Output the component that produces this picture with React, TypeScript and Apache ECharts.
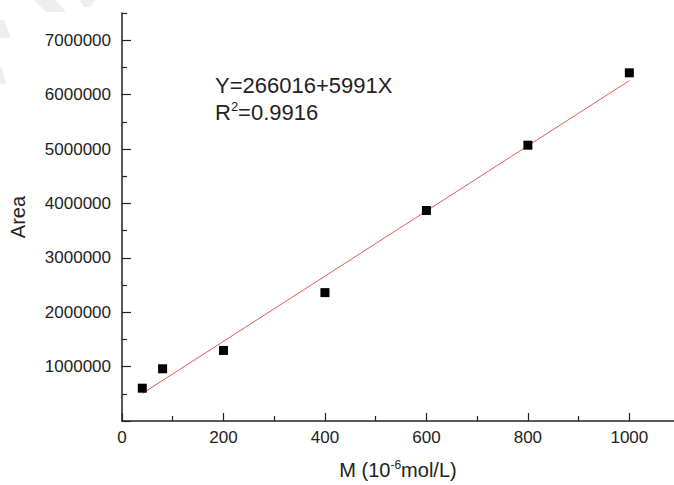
import React, { useEffect, useRef } from "react";
import * as echarts from "echarts";

// Data
const concentrations = [40, 80, 200, 400, 600, 800, 1000];
const areas = [603000, 960000, 1297000, 2360000, 3870000, 5070000, 6400000];
// Linear fit end points (Y = 266016 + 5991X)
const fitX = [40, 1000];
const fitY = [505656, 6257016];

const xMajorTicks = [0, 200, 400, 600, 800, 1000];
const xMinorTicks = [100, 300, 500, 700, 900];
const yMajorTicks = [0, 1000000, 2000000, 3000000, 4000000, 5000000, 6000000, 7000000];
const yMinorTicks = [500000, 1500000, 2500000, 3500000, 4500000, 5500000, 6500000, 7500000];

const equationText = "Y=266016+5991X";
const r2Label = "0.9916";

const FONT = "'Liberation Sans', Arial, sans-serif";
const AXIS_COLOR = "#222222";
const TEXT_COLOR = "#222222";

export default function App() {
  const ref = useRef<HTMLDivElement>(null);

  useEffect(() => {
    if (!ref.current) return;
    const chart = echarts.init(ref.current, undefined, { renderer: "svg" });

    const scatterData = concentrations.map((x, i) => [x, areas[i]]);
    const fitData = fitX.map((x, i) => [x, fitY[i]]);
    const plain = (v: number) => String(v);

    const option: any = {
      animation: false,
      backgroundColor: "#ffffff",
      textStyle: { fontFamily: FONT },
      grid: { left: 122, top: 13, bottom: 63, right: 0, containLabel: false },
      xAxis: [
        {
          type: "value",
          min: 0,
          max: 1088,
          name: "{n|M (10}{s|-6}{n|mol/L)}",
          nameLocation: "middle",
          nameGap: 38,
          nameTextStyle: {
            rich: {
              n: { fontSize: 20, fontFamily: FONT, color: TEXT_COLOR },
              s: { fontSize: 12, fontFamily: FONT, color: TEXT_COLOR, verticalAlign: "top", padding: [0, 0, 10, 0] },
            },
          },
          axisLine: { show: true, lineStyle: { color: AXIS_COLOR, width: 1.5 } },
          axisTick: { show: true, inside: true, length: 8, customValues: xMajorTicks, lineStyle: { color: AXIS_COLOR, width: 1.2 } },
          axisLabel: { show: true, customValues: xMajorTicks, formatter: plain, fontSize: 17, color: TEXT_COLOR, fontFamily: FONT, margin: 8 },
          splitLine: { show: false },
        },
        {
          type: "value",
          min: 0,
          max: 1088,
          position: "bottom",
          axisLine: { show: false },
          axisTick: { show: true, inside: true, length: 5, customValues: xMinorTicks, lineStyle: { color: AXIS_COLOR, width: 1.2 } },
          axisLabel: { show: false },
          splitLine: { show: false },
        },
      ],
      yAxis: [
        {
          type: "value",
          min: 0,
          max: 7500000,
          name: "Area",
          nameLocation: "middle",
          nameGap: 94,
          nameTextStyle: { fontSize: 20, color: TEXT_COLOR, fontFamily: FONT },
          axisLine: { show: true, lineStyle: { color: AXIS_COLOR, width: 1.5 } },
          axisTick: { show: true, inside: true, length: 9, customValues: yMajorTicks, lineStyle: { color: AXIS_COLOR, width: 1.2 } },
          axisLabel: { show: true, customValues: yMajorTicks.slice(1), formatter: plain, fontSize: 17, color: TEXT_COLOR, fontFamily: FONT, margin: 11 },
          splitLine: { show: false },
        },
        {
          type: "value",
          min: 0,
          max: 7500000,
          position: "left",
          axisLine: { show: false },
          axisTick: { show: true, inside: true, length: 5, customValues: yMinorTicks, lineStyle: { color: AXIS_COLOR, width: 1.2 } },
          axisLabel: { show: false },
          splitLine: { show: false },
        },
      ],
      graphic: [
        { type: "polygon", shape: { points: [[34, 0], [56, 0], [66, 12], [46, 12]] }, style: { fill: "#eeeeee" }, silent: true },
        { type: "polygon", shape: { points: [[80, 0], [95, 0], [90, 7], [84, 7]] }, style: { fill: "#eeeeee" }, silent: true },
        { type: "polygon", shape: { points: [[0, 20], [4, 20], [11, 38], [0, 38]] }, style: { fill: "#eeeeee" }, silent: true },
        { type: "polygon", shape: { points: [[0, 67], [2, 67], [6, 84], [0, 84]] }, style: { fill: "#eeeeee" }, silent: true },
        {
          type: "text",
          left: 215,
          top: 74,
          style: { text: equationText, fontSize: 22, fontFamily: FONT, fill: TEXT_COLOR },
        },
        {
          type: "text",
          left: 215,
          top: 100,
          style: {
            text: "{n|R}{s|2}{n|=" + r2Label + "}",
            fontFamily: FONT,
            fill: TEXT_COLOR,
            rich: {
              n: { fontSize: 22, fontFamily: FONT, fill: TEXT_COLOR },
              s: { fontSize: 13, fontFamily: FONT, fill: TEXT_COLOR, verticalAlign: "top", padding: [0, 0, 12, 0] },
            },
          },
        },
      ],
      series: [
        {
          type: "line",
          data: fitData,
          xAxisIndex: 0,
          yAxisIndex: 0,
          showSymbol: false,
          symbol: "none",
          lineStyle: { color: "#e35a5a", width: 1 },
          z: 2,
        },
        {
          type: "scatter",
          data: scatterData,
          xAxisIndex: 0,
          yAxisIndex: 0,
          symbol: "rect",
          symbolSize: 9,
          itemStyle: { color: "#000000", opacity: 1 },
          z: 3,
        },
      ],
    };

    chart.setOption(option);
    return () => chart.dispose();
  }, []);

  return (
    <div style={{ position: "fixed", left: 0, top: 0, width: 674, height: 485, background: "#fff", overflow: "hidden" }}>
      <div ref={ref} style={{ width: 674, height: 485 }} />
    </div>
  );
}
